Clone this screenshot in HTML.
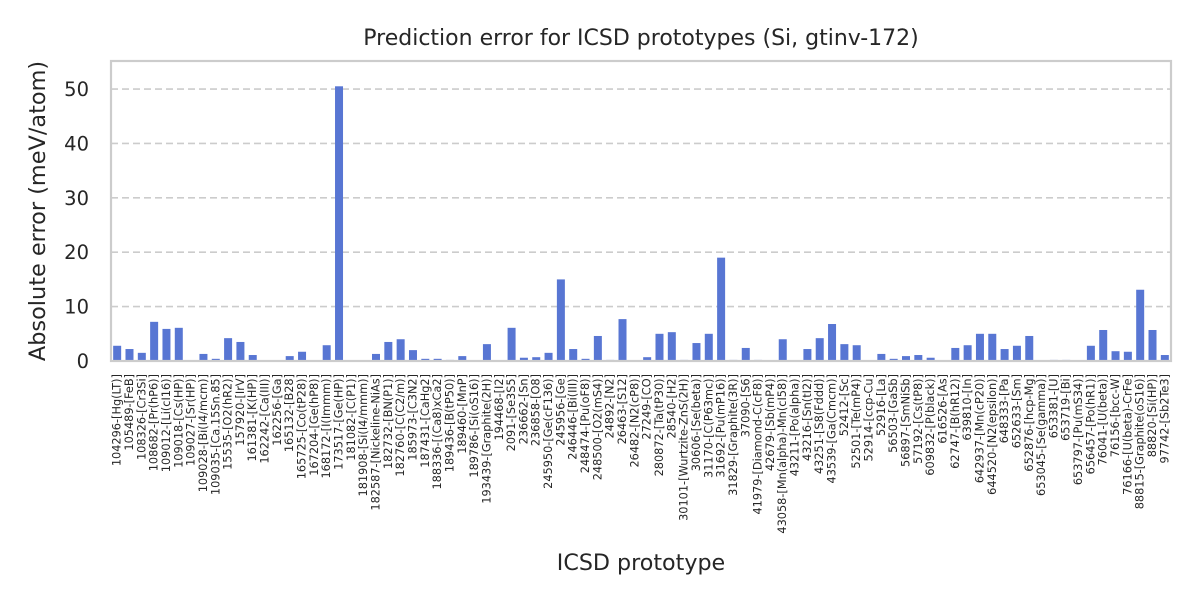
<!DOCTYPE html>
<html><head><meta charset="utf-8"><style>
html,body{margin:0;padding:0;background:#fff;}
svg{display:block;font-family:"DejaVu Sans","Liberation Sans",sans-serif;}
</style></head><body>
<svg id="chart" width="1200" height="600" viewBox="0 0 1200 600">
<text x="641" y="45" text-anchor="middle" font-size="22" fill="#262626">Prediction error for ICSD prototypes (Si, gtinv-172)</text>
<g id="grid"></g>
<g id="bars"></g>
<rect x="111" y="61" width="1060" height="300" fill="none" stroke="#cccccc" stroke-width="2.2"/>
<g id="yticks"></g>
<g id="xticks"></g>
<text transform="translate(45,211) rotate(-90)" text-anchor="middle" font-size="22.4" fill="#262626">Absolute error (meV/atom)</text>
<text x="641" y="570" text-anchor="middle" font-size="22.2" fill="#262626">ICSD prototype</text>
</svg>
<script>
const categories = ["104296-[Hg(LT)]","105489-[FeB]","108326-[Cr3Si]","108682-[Pr(hP6)]","109012-[Li(cI16)]","109018-[Cs(HP)]","109027-[Sr(HP)]","109028-[Bi(I4/mcm)]","109035-[Ca.15Sn.85]","15535-[O2(hR2)]","157920-[IrV]","161381-[K(HP)]","162242-[Ca(III)]","162256-[Ga]","165132-[B28]","165725-[Co(tP28)]","167204-[Ge(hP8)]","168172-[I(Immm)]","173517-[Ge(HP)]","181082-[C(P1)]","181908-[Si(I4/mmm)]","182587-[Nickeline-NiAs]","182732-[BN(P1)]","182760-[C(C2/m)]","185973-[C3N2]","187431-[CaHg2]","188336-[(Ca8)xCa2]","189436-[B(tP50)]","189460-[MnP]","189786-[Si(oS16)]","193439-[Graphite(2H)]","194468-[I2]","2091-[Se3S5]","236662-[Sn]","236858-[O8]","245950-[Ge(cF136)]","245956-[Ge]","246446-[Bi(III)]","248474-[Pu(oF8)]","248500-[O2(mS4)]","24892-[N2]","26463-[S12]","26482-[N2(cP8)]","27249-[CO]","280872-[Ta(tP30)]","28540-[H2]","30101-[Wurtzite-ZnS(2H)]","30606-[Se(beta)]","31170-[C(P63mc)]","31692-[Pu(mP16)]","31829-[Graphite(3R)]","37090-[S6]","41979-[Diamond-C(cF8)]","42679-[Sb(mP4)]","43058-[Mn(alpha)-Mn(cI58)]","43211-[Po(alpha)]","43216-[Sn(tI2)]","43251-[S8(Fddd)]","43539-[Ga(Cmcm)]","52412-[Sc]","52501-[Te(mP4)]","52914-[ccp-Cu]","52916-[La]","56503-[GaSb]","56897-[SmNiSb]","57192-[Cs(tP8)]","609832-[P(black)]","616526-[As]","62747-[B(hR12)]","639810-[In]","642937-[Mn(cP20)]","644520-[N2(epsilon)]","648333-[Pa]","652633-[Sm]","652876-[hcp-Mg]","653045-[Se(gamma)]","653381-[U]","653719-[Bi]","653797-[Pu(mS34)]","656457-[Po(hR1)]","76041-[U(beta)]","76156-[bcc-W]","76166-[U(beta)-CrFe]","88815-[Graphite(oS16)]","88820-[Si(HP)]","97742-[Sb2Te3]"];
const errors = [2.8,2.2,1.5,7.2,5.9,6.1,0,1.3,0.4,4.2,3.5,1.1,0,0,0.9,1.7,0,2.9,50.5,0,0,1.3,3.5,4.0,2.0,0.4,0.4,0.2,0.9,0,3.1,0,6.1,0.6,0.7,1.5,15.0,2.2,0.4,4.6,0.2,7.7,0,0.7,5.0,5.3,0.2,3.3,5.0,19.0,0.2,2.4,0.2,0,4.0,0,2.2,4.2,6.8,3.1,2.9,0,1.3,0.4,0.9,1.1,0.6,0,2.4,2.9,5.0,5.0,2.2,2.8,4.6,0,0.2,0.2,0,2.8,5.7,1.8,1.7,13.1,5.7,1.1];
const yTicks = [0,10,20,30,40,50];

const NS = "http://www.w3.org/2000/svg";
const X0 = 111, X1 = 1171, Y0 = 361, Y1 = 61, YMAX = 55.15;
const step = (X1 - X0) / categories.length;
const xScale = i => X0 + step * (i + 0.5);
const yScale = v => Y0 - (v / YMAX) * (Y0 - Y1);
function mk(tag, attrs, parent) {
  const e = document.createElementNS(NS, tag);
  for (const k in attrs) e.setAttribute(k, attrs[k]);
  parent.appendChild(e);
  return e;
}
const grid = document.getElementById("grid");
const yt = document.getElementById("yticks");
yTicks.forEach(t => {
  const y = yScale(t);
  if (t > 0) {
    const g = mk("line", {x1: X0, x2: X1, y1: y, y2: y, stroke: "#cccccc", "stroke-width": 1.6, "stroke-dasharray": "7,4"}, grid);
    
    
  }
  const l = mk("text", {x: 89, y: y + 7, "text-anchor": "end", "font-size": 19.5, fill: "#262626"}, yt);
  l.textContent = t;
  
  
});
const bars = document.getElementById("bars");
const xt = document.getElementById("xticks");
const bw = 8;
const LY = 374;
categories.forEach((c, i) => {
  const cx = xScale(i);
  const v = errors[i];
  const b = mk("rect", {x: cx - bw / 2, y: yScale(v), width: bw, height: Y0 - yScale(v), fill: "#5876d3"}, bars);
  
  
  const t = mk("text", {x: cx, y: LY, transform: "rotate(-90," + cx + "," + LY + ")", "text-anchor": "end", "dominant-baseline": "central", "font-size": 11.3, fill: "#262626"}, xt);
  t.textContent = c;
  
  
});
</script>
</body></html>
